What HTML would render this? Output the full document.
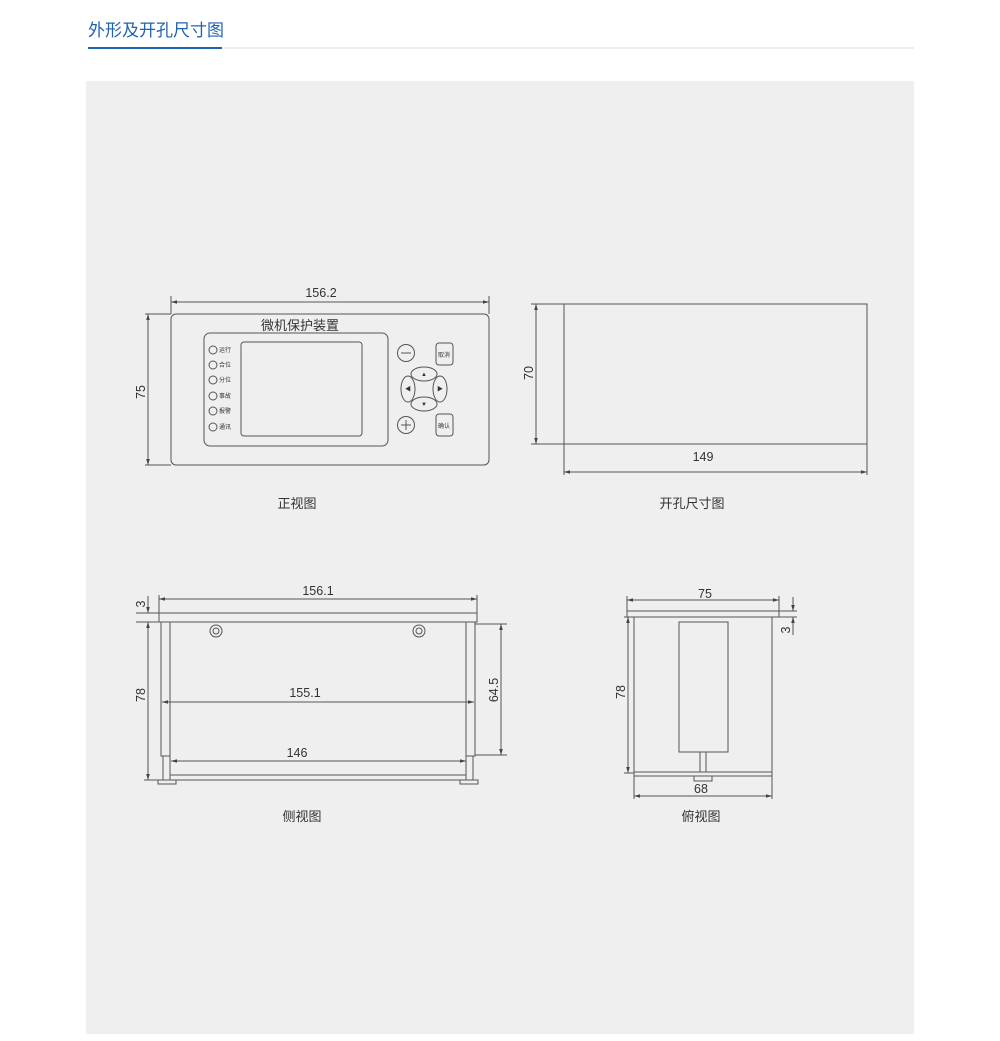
<!DOCTYPE html>
<html><head><meta charset="utf-8"><style>
html,body{margin:0;padding:0;background:#fff}
svg{display:block}
text{font-family:"Liberation Sans","Noto Sans CJK SC",sans-serif;fill:#333}
</style></head><body>
<svg width="1000" height="1041" viewBox="0 0 1000 1041" xmlns="http://www.w3.org/2000/svg">
<defs>
<marker id="a" viewBox="0 0 10 10" refX="10" refY="5" markerWidth="6" markerHeight="6" orient="auto-start-reverse"><path d="M0,2 L10,5 L0,8 z" fill="#444"/></marker>
</defs>
<text x="88" y="36" font-size="17" style="fill:#1f62b3">外形及开孔尺寸图</text>
<rect x="222" y="47.5" width="692" height="1" fill="#dcdcdc"/>
<rect x="88" y="47" width="134" height="2" fill="#1f62b3"/>
<rect x="86" y="81" width="828" height="953" fill="#efefef"/>
<g stroke="#555" stroke-width="1" fill="none">
<line x1="171" y1="296" x2="171" y2="314"/><line x1="489" y1="296" x2="489" y2="314"/>
<line x1="171" y1="302" x2="489" y2="302" marker-start="url(#a)" marker-end="url(#a)"/>
<line x1="145" y1="314" x2="171" y2="314"/><line x1="145" y1="465" x2="171" y2="465"/>
<line x1="148" y1="314" x2="148" y2="465" marker-start="url(#a)" marker-end="url(#a)"/>
<rect x="171" y="314" width="318" height="151" rx="5"/>
<rect x="204" y="333" width="184" height="113" rx="6"/>
<rect x="241" y="342" width="121" height="94" rx="3"/>
<circle cx="213" cy="350" r="4"/><circle cx="213" cy="365" r="4"/><circle cx="213" cy="380" r="4"/>
<circle cx="213" cy="396" r="4"/><circle cx="213" cy="411" r="4"/><circle cx="213" cy="427" r="4"/>
<circle cx="406" cy="353" r="8.5"/><line x1="401" y1="353" x2="411" y2="353"/>
<circle cx="406" cy="425" r="8.5"/><line x1="401" y1="425" x2="411" y2="425"/><line x1="406" y1="420" x2="406" y2="430"/>
<rect x="436" y="343" width="17" height="22" rx="3"/>
<rect x="436" y="414" width="17" height="22" rx="3"/>
<ellipse cx="424" cy="374" rx="13" ry="7"/>
<ellipse cx="424" cy="404" rx="13" ry="7"/>
<ellipse cx="408" cy="389" rx="7" ry="13"/>
<ellipse cx="440" cy="389" rx="7" ry="13"/>
<rect x="564" y="304" width="303" height="140"/>
<line x1="531" y1="304" x2="564" y2="304"/><line x1="531" y1="444" x2="564" y2="444"/>
<line x1="536" y1="304" x2="536" y2="444" marker-start="url(#a)" marker-end="url(#a)"/>
<line x1="564" y1="444" x2="564" y2="475"/><line x1="867" y1="444" x2="867" y2="475"/>
<line x1="564" y1="472" x2="867" y2="472" marker-start="url(#a)" marker-end="url(#a)"/>
<line x1="159" y1="595" x2="159" y2="613"/><line x1="477" y1="595" x2="477" y2="613"/>
<line x1="159" y1="599" x2="477" y2="599" marker-start="url(#a)" marker-end="url(#a)"/>
<rect x="159" y="613" width="318" height="9"/>
<line x1="136" y1="613" x2="159" y2="613"/><line x1="136" y1="622" x2="159" y2="622"/>
<line x1="148" y1="596" x2="148" y2="613" marker-end="url(#a)"/>
<line x1="148" y1="622" x2="148" y2="780" marker-start="url(#a)" marker-end="url(#a)"/>
<line x1="144" y1="780" x2="158" y2="780"/>
<rect x="161" y="622" width="9" height="134"/>
<rect x="466" y="622" width="9" height="134"/>
<line x1="170" y1="622" x2="170" y2="780"/><line x1="466" y1="622" x2="466" y2="780"/>
<line x1="163" y1="756" x2="163" y2="780"/><line x1="473" y1="756" x2="473" y2="780"/>
<line x1="170" y1="775" x2="466" y2="775"/><line x1="170" y1="780" x2="466" y2="780"/>
<rect x="158" y="780" width="18" height="4"/><rect x="460" y="780" width="18" height="4"/>
<circle cx="216" cy="631" r="6"/><circle cx="216" cy="631" r="3"/>
<circle cx="419" cy="631" r="6"/><circle cx="419" cy="631" r="3"/>
<line x1="162" y1="702" x2="474" y2="702" marker-start="url(#a)" marker-end="url(#a)"/>
<line x1="171" y1="761" x2="466" y2="761" marker-start="url(#a)" marker-end="url(#a)"/>
<line x1="475" y1="624" x2="507" y2="624"/><line x1="475" y1="755" x2="507" y2="755"/>
<line x1="501" y1="624" x2="501" y2="755" marker-start="url(#a)" marker-end="url(#a)"/>
<line x1="627" y1="596" x2="627" y2="611"/><line x1="779" y1="596" x2="779" y2="611"/>
<line x1="627" y1="600" x2="779" y2="600" marker-start="url(#a)" marker-end="url(#a)"/>
<rect x="627" y="611" width="152" height="6"/>
<line x1="779" y1="611" x2="797" y2="611"/><line x1="772" y1="617" x2="797" y2="617"/>
<line x1="793" y1="597" x2="793" y2="611" marker-end="url(#a)"/>
<line x1="793" y1="635" x2="793" y2="617" marker-end="url(#a)"/>
<rect x="634" y="617" width="138" height="159"/>
<line x1="634" y1="772" x2="772" y2="772"/>
<rect x="679" y="622" width="49" height="130"/>
<rect x="700" y="752" width="6" height="20"/>
<rect x="694" y="776" width="18" height="5"/>
<line x1="624" y1="617" x2="634" y2="617"/><line x1="624" y1="773" x2="634" y2="773"/>
<line x1="628" y1="617" x2="628" y2="773" marker-start="url(#a)" marker-end="url(#a)"/>
<line x1="634" y1="776" x2="634" y2="799"/><line x1="772" y1="776" x2="772" y2="799"/>
<line x1="634" y1="796" x2="772" y2="796" marker-start="url(#a)" marker-end="url(#a)"/>
</g>
<g font-size="12.5" text-anchor="middle">
<text x="321" y="297">156.2</text>
<text transform="translate(145,392) rotate(-90)">75</text>
<text x="703" y="461">149</text>
<text transform="translate(533,373) rotate(-90)">70</text>
<text x="318" y="595">156.1</text>
<text transform="translate(145,604) rotate(-90)">3</text>
<text transform="translate(145,695) rotate(-90)">78</text>
<text x="305" y="697">155.1</text>
<text x="297" y="757">146</text>
<text transform="translate(498,690) rotate(-90)">64.5</text>
<text x="705" y="598">75</text>
<text transform="translate(625,692) rotate(-90)">78</text>
<text x="701" y="793">68</text>
<text transform="translate(790,630) rotate(-90)">3</text>
</g>
<text x="300" y="330" font-size="13" text-anchor="middle">微机保护装置</text>
<g font-size="6">
<text x="219" y="352">运行</text><text x="219" y="367">合位</text><text x="219" y="382">分位</text>
<text x="219" y="398">事故</text><text x="219" y="413">报警</text><text x="219" y="429">通讯</text>
<text x="438" y="357">取消</text><text x="438" y="428">确认</text>
</g>
<g font-size="6" text-anchor="middle">
<text x="424" y="376">▲</text><text x="424" y="406">▼</text><text x="408" y="391">◀</text><text x="440" y="391">▶</text>
</g>
<g font-size="13" text-anchor="middle">
<text x="297" y="508">正视图</text>
<text x="692" y="508">开孔尺寸图</text>
<text x="302" y="821">侧视图</text>
<text x="701" y="821">俯视图</text>
</g>
</svg>
</body></html>
